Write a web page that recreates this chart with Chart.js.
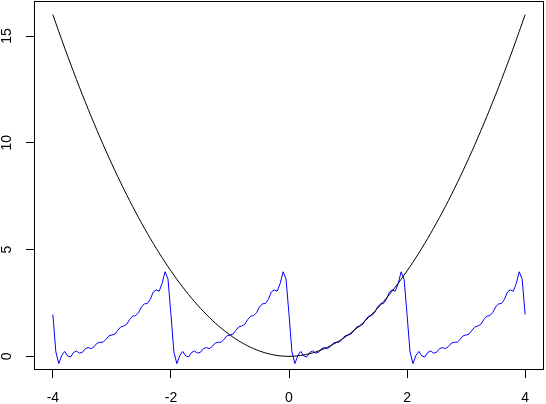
<!DOCTYPE html>
<html>
<head>
<meta charset="utf-8">
<script src="https://cdn.jsdelivr.net/npm/chart.js@4.4.1/dist/chart.umd.min.js"></script>
<style>
html,body{margin:0;padding:0;background:#fff;}
#wrap{width:546px;height:404px;position:relative;}
</style>
</head>
<body>
<div id="wrap"><canvas id="c" width="546" height="404"></canvas></div>
<script>
// x grid (shared by both series)
const xGrid = [
-4,-3.95,-3.9,-3.85,-3.8,-3.75,-3.7,-3.65,-3.6,-3.55,-3.5,-3.45,-3.4,-3.35,-3.3,-3.25,-3.2,-3.15,-3.1,-3.05,
-3,-2.95,-2.9,-2.85,-2.8,-2.75,-2.7,-2.65,-2.6,-2.55,-2.5,-2.45,-2.4,-2.35,-2.3,-2.25,-2.2,-2.15,-2.1,-2.05,
-2,-1.95,-1.9,-1.85,-1.8,-1.75,-1.7,-1.65,-1.6,-1.55,-1.5,-1.45,-1.4,-1.35,-1.3,-1.25,-1.2,-1.15,-1.1,-1.05,
-1,-0.95,-0.9,-0.85,-0.8,-0.75,-0.7,-0.65,-0.6,-0.55,-0.5,-0.45,-0.4,-0.35,-0.3,-0.25,-0.2,-0.15,-0.1,-0.05,
0,0.05,0.1,0.15,0.2,0.25,0.3,0.35,0.4,0.45,0.5,0.55,0.6,0.65,0.7,0.75,0.8,0.85,0.9,0.95,
1,1.05,1.1,1.15,1.2,1.25,1.3,1.35,1.4,1.45,1.5,1.55,1.6,1.65,1.7,1.75,1.8,1.85,1.9,1.95,
2,2.05,2.1,2.15,2.2,2.25,2.3,2.35,2.4,2.45,2.5,2.55,2.6,2.65,2.7,2.75,2.8,2.85,2.9,2.95,
3,3.05,3.1,3.15,3.2,3.25,3.3,3.35,3.4,3.45,3.5,3.55,3.6,3.65,3.7,3.75,3.8,3.85,3.9,3.95,
4];

// black curve (parabola)
const parabola = [
16,15.6025,15.21,14.8225,14.44,14.0625,13.69,13.3225,12.96,12.6025,12.25,11.9025,11.56,11.2225,10.89,10.5625,10.24,9.9225,9.61,9.3025,
9,8.7025,8.41,8.1225,7.84,7.5625,7.29,7.0225,6.76,6.5025,6.25,6.0025,5.76,5.5225,5.29,5.0625,4.84,4.6225,4.41,4.2025,
4,3.8025,3.61,3.4225,3.24,3.0625,2.89,2.7225,2.56,2.4025,2.25,2.1025,1.96,1.8225,1.69,1.5625,1.44,1.3225,1.21,1.1025,
1,0.9025,0.81,0.7225,0.64,0.5625,0.49,0.4225,0.36,0.3025,0.25,0.2025,0.16,0.1225,0.09,0.0625,0.04,0.0225,0.01,0.0025,
0,0.0025,0.01,0.0225,0.04,0.0625,0.09,0.1225,0.16,0.2025,0.25,0.3025,0.36,0.4225,0.49,0.5625,0.64,0.7225,0.81,0.9025,
1,1.1025,1.21,1.3225,1.44,1.5625,1.69,1.8225,1.96,2.1025,2.25,2.4025,2.56,2.7225,2.89,3.0625,3.24,3.4225,3.61,3.8025,
4,4.2025,4.41,4.6225,4.84,5.0625,5.29,5.5225,5.76,6.0025,6.25,6.5025,6.76,7.0225,7.29,7.5625,7.84,8.1225,8.41,8.7025,
9,9.3025,9.61,9.9225,10.24,10.5625,10.89,11.2225,11.56,11.9025,12.25,12.6025,12.96,13.3225,13.69,14.0625,14.44,14.8225,15.21,15.6025,
16];

// blue curve (periodic approximation with ripples)
const approx = [
1.96,0.21,-0.34,0.04,0.23,0.02,-0.03,0.18,0.25,0.15,0.19,0.36,0.41,0.36,0.46,0.62,0.66,0.66,0.80,0.96,
1.00,1.04,1.22,1.38,1.42,1.50,1.72,1.88,1.91,2.04,2.31,2.46,2.47,2.67,3.01,3.11,3.05,3.41,3.96,3.62,
1.96,0.21,-0.34,0.04,0.23,0.02,-0.03,0.18,0.25,0.15,0.19,0.36,0.41,0.36,0.46,0.62,0.66,0.66,0.80,0.96,
1.00,1.04,1.22,1.38,1.42,1.50,1.72,1.88,1.91,2.04,2.31,2.46,2.47,2.67,3.01,3.11,3.05,3.41,3.96,3.62,
1.96,0.21,-0.34,0.04,0.23,0.02,-0.03,0.18,0.25,0.15,0.19,0.36,0.41,0.36,0.46,0.62,0.66,0.66,0.80,0.96,
1.00,1.04,1.22,1.38,1.42,1.50,1.72,1.88,1.91,2.04,2.31,2.46,2.47,2.67,3.01,3.11,3.05,3.41,3.96,3.62,
1.96,0.21,-0.34,0.04,0.23,0.02,-0.03,0.18,0.25,0.15,0.19,0.36,0.41,0.36,0.46,0.62,0.66,0.66,0.80,0.96,
1.00,1.04,1.22,1.38,1.42,1.50,1.72,1.88,1.91,2.04,2.31,2.46,2.47,2.67,3.01,3.11,3.05,3.41,3.96,3.62,
1.96];

const xTicks = [-4, -2, 0, 2, 4];
const yTicks = [0, 5, 10, 15];

const FAMILY = '"Liberation Sans", Arial, sans-serif';
const FSIZE = 14;

const boxPlugin = {
  id: 'rbox',
  afterDraw(chart) {
    const {ctx, chartArea: a, scales} = chart;
    ctx.save();
    ctx.strokeStyle = '#000';
    ctx.lineWidth = 1;
    ctx.strokeRect(Math.round(a.left) + 0.5, Math.round(a.top) + 0.5,
                   Math.round(a.right - a.left) - 1, Math.round(a.bottom - a.top) - 1);
    // rotated y tick labels (R style, reading upward)
    ctx.fillStyle = '#000';
    ctx.font = FSIZE + 'px ' + FAMILY;
    ctx.textAlign = 'center';
    ctx.textBaseline = 'alphabetic';
    yTicks.forEach(v => {
      const y = scales.y.getPixelForValue(v);
      ctx.save();
      ctx.translate(11, y);
      ctx.rotate(-Math.PI / 2);
      ctx.fillText(String(v), 0, 0);
      ctx.restore();
    });
    ctx.restore();
  }
};

new Chart(document.getElementById('c'), {
  type: 'line',
  data: {
    datasets: [
      {
        data: xGrid.map((x, i) => ({x, y: parabola[i]})),
        borderColor: '#000000',
        borderWidth: 1,
        pointRadius: 0,
        tension: 0,
        fill: false
      },
      {
        data: xGrid.map((x, i) => ({x, y: approx[i]})),
        borderColor: '#0000FF',
        borderWidth: 1,
        pointRadius: 0,
        tension: 0,
        fill: false
      }
    ]
  },
  options: {
    responsive: false,
    animation: false,
    events: [],
    layout: {padding: {top: 1, right: 2, left: 0, bottom: 0}},
    plugins: {legend: {display: false}, tooltip: {enabled: false}},
    scales: {
      x: {
        type: 'linear',
        min: -4.32, max: 4.32,
        afterBuildTicks: s => { s.ticks = xTicks.map(v => ({value: v})); },
        afterFit: s => { s.height = 34; },
        border: {display: false},
        grid: {drawOnChartArea: false, drawTicks: true, tickLength: 8, color: '#000', lineWidth: 1},
        ticks: {
          color: '#000',
          font: {family: FAMILY, size: FSIZE},
          padding: 12,
          maxRotation: 0, minRotation: 0,
          callback: v => String(v)
        }
      },
      y: {
        type: 'linear',
        min: -0.64, max: 16.64,
        afterBuildTicks: s => { s.ticks = yTicks.map(v => ({value: v})); },
        afterFit: s => { s.width = 34; },
        border: {display: false},
        grid: {drawOnChartArea: false, drawTicks: true, tickLength: 8, color: '#000', lineWidth: 1},
        ticks: {display: false}
      }
    }
  },
  plugins: [boxPlugin]
});
</script>
</body>
</html>
